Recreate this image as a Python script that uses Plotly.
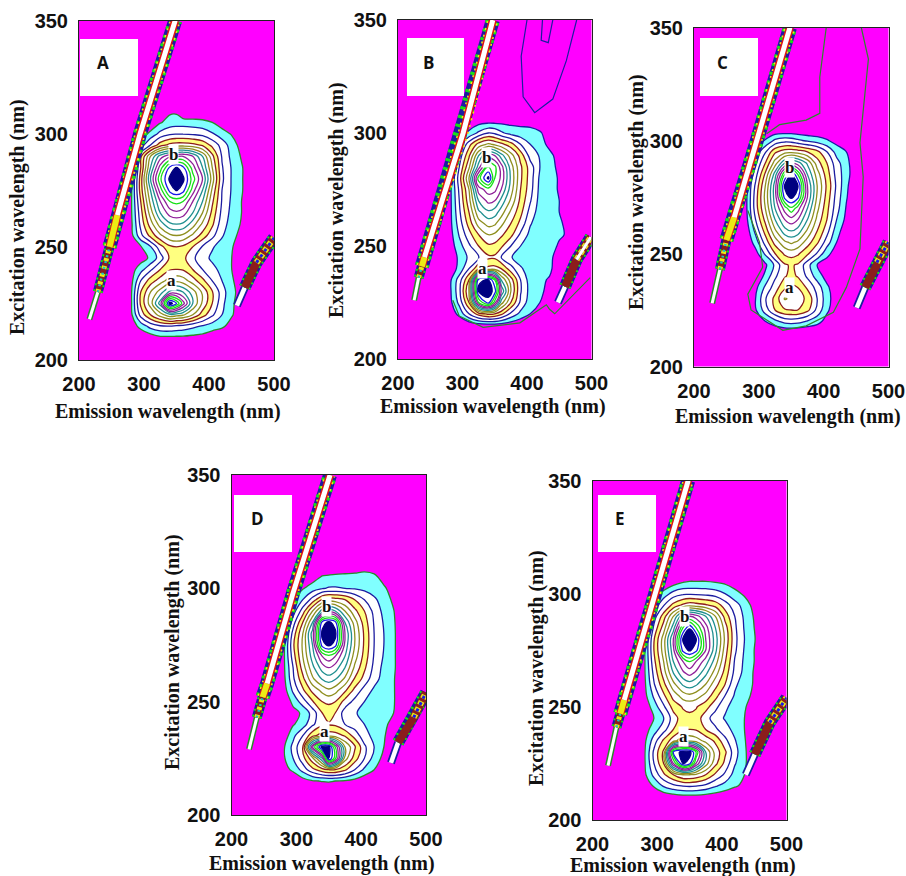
import plotly.graph_objects as go

W, H = 906, 876
EMISSION = [280, 295, 310, 325, 340, 350, 360, 375, 390, 405, 420, 435, 450, 465]
EXCITATION = [205, 210, 215, 220, 225, 230, 235, 240, 245, 250, 255, 260, 265, 270, 275, 280, 285, 290, 295, 300, 305, 310, 315]
X_TICKS = [200, 300, 400, 500]
Y_TICKS = [200, 250, 300, 350]
X_LABEL = "Emission wavelength (nm)"
Y_LABEL = "Excitation wavelength (nm)"

Z0 = [0] * 14
Z_A = [
    Z0,
    [0, 0, .4, .8, .8, .8, .8, .7, .6, .3, .1, 0, 0, 0],
    [.3, 1.4, 2.4, 2.9, 3, 2.8, 2.7, 2.3, 1.9, 1.5, 1.2, .6, 0, 0],
    [.7, 3.4, 5, 6.5, 7.8, 7.5, 7.2, 6, 4.5, 3.2, 2, 1.1, .4, 0],
    [.8, 4.2, 6.5, 9.5, 15.6, 14, 11.5, 8, 5.8, 4, 2.3, 1.1, .7, 0],
    [.8, 4, 6, 7.5, 9.3, 9.5, 9, 7.5, 5.8, 4.1, 2.5, 1.2, .7, 0],
    [.6, 3, 4.5, 5.5, 6.5, 6.8, 6.5, 5.5, 4.3, 3, 2, 1.1, .6, 0],
    [.5, 1.6, 2.8, 4, 4.9, 5, 4.9, 4, 3, 2.3, 1.7, 1, .3, 0],
    [.1, .5, 1.2, 2.5, 4.2, 4.6, 4.3, 3.2, 2.4, 1.8, 1.4, 1, .3, 0],
    [.3, .9, 1.9, 3.6, 4.8, 5, 4.8, 4, 2.9, 2.1, 1.6, 1.1, .3, 0],
    [.6, 2.7, 4.3, 5.8, 6.8, 7, 6.8, 5.8, 4.6, 3.3, 2.1, 1.4, .6, 0],
    [.7, 3.3, 5.5, 7.5, 8.8, 9, 8.8, 7.5, 5.8, 4.2, 2.4, 1.6, .9, .1],
    [.8, 3.6, 6.5, 9, 10.5, 10.8, 10.5, 9, 7, 4.7, 2.7, 1.7, 1, .2],
    [.8, 4, 7.3, 10, 12, 12.3, 12, 10, 8, 5.2, 2.9, 1.8, 1, .2],
    [.7, 4.5, 8, 11.5, 14.4, 15.1, 14.4, 11.5, 9, 5.8, 3, 1.9, 1.1, .3],
    [.6, 4.5, 9, 12.8, 15.3, 16.5, 15.3, 12.5, 10, 6.5, 3.2, 1.9, 1.1, .3],
    [.5, 4, 8, 11.5, 14.3, 15.1, 14.3, 11.5, 9, 6, 3.1, 1.9, 1.1, .3],
    [.4, 3.8, 7, 9.5, 10.8, 10.8, 11, 10, 8, 5.3, 2.9, 1.7, .9, .2],
    [.3, 1.5, 3, 4.5, 5.3, 5.5, 5.5, 5.3, 4.8, 3.7, 2.6, 1.5, .6, 0],
    [0, .3, 1.3, 2.3, 2.8, 2.9, 2.9, 2.8, 2.6, 2.1, 1.4, .9, 0, 0],
    [0, 0, 0, .9, 1.4, 1.5, 1.5, 1.4, 1.3, 1, .5, 0, 0, 0],
    [0, 0, 0, 0, .8, .8, 0, 0, 0, 0, 0, 0, 0, 0],
    Z0,
]
Z_B = [
    Z0, Z0,
    [0, 0, .2, .5, .6, .6, .5, .3, .1, 0, 0, 0, 0, 0],
    [.3, 1.3, 3, 4.5, 5.2, 5, 4.3, 2.8, 1.7, 1, .5, 0, 0, 0],
    [.6, 2.3, 5, 12, 14.5, 11.5, 7.5, 5, 2.8, 1.4, 1, .4, 0, 0],
    [.7, 2.7, 6, 15.2, 15.6, 14.6, 10, 6, 3.1, 1.6, 1.2, .7, .1, 0],
    [.7, 2.5, 5, 14.8, 15.1, 13, 8, 5.5, 3, 1.5, 1.2, .9, .2, 0],
    [.3, 1.3, 3, 4.8, 5.3, 5.4, 5, 3.4, 2.2, 1.3, 1.2, 1.2, .4, 0],
    [.3, 1.2, 2.2, 2.9, 3.8, 3.8, 3, 2.1, 1.3, 1.2, 1.2, 1.2, .6, 0],
    [.4, 1.6, 2.8, 4, 4.8, 4.7, 4.2, 3, 2, 1.4, 1.3, 1.3, .9, .7],
    [.5, 2.1, 3.6, 5, 6, 5.8, 5.2, 4.3, 2.8, 1.7, 1.4, 1.4, 1.1, .9],
    [.6, 2.5, 4.4, 6.5, 7.4, 7.2, 6.3, 5, 3.7, 2.1, 1.4, 1.4, 1.1, .8],
    [.6, 2.8, 5, 7.8, 8.8, 8.5, 7.5, 5.8, 4.3, 2.6, 1.5, 1.4, 1, .6],
    [.6, 3, 5.6, 9, 10.3, 10, 8.7, 6.8, 4.7, 3.1, 1.6, 1.4, 1, .3],
    [.6, 3.2, 6, 10.5, 11.5, 11.3, 10, 7.5, 5, 3.4, 1.7, 1.4, .9, .2],
    [.6, 3.5, 7, 12.5, 15.3, 12, 10.8, 7.8, 5.2, 3.5, 1.8, 1.4, .9, .1],
    [.3, 3, 5.8, 9.5, 13, 12.3, 10.5, 7.5, 5.2, 3.5, 2, 1.3, .8, 0],
    [.2, 2.4, 4.8, 8, 10.5, 10, 8.5, 6.5, 4.6, 2.6, 1.9, 1.2, .7, 0],
    [0, 1.5, 3.6, 5.4, 6.2, 5.8, 5.3, 4.4, 3, 2, 1.3, .8, 0, 0],
    [0, .3, 1.2, 2.2, 3, 2.8, 2.2, 1.6, 1.4, 1.3, 1.1, .6, 0, 0],
    [0, 0, .3, .6, .7, .7, .7, .7, .7, .7, .5, 0, 0, 0],
    Z0, Z0,
]
Z_C = [
    Z0, Z0, Z0,
    [0, .2, 1, 1.7, 2.4, 2.5, 2.4, 1.9, 1.4, .6, .1, 0, 0, 0],
    [0, .9, 2.5, 4, 4.9, 5, 5, 4.3, 2.7, 1.2, .3, 0, 0, 0],
    [0, 1, 2.9, 4.3, 6.1, 5.8, 5.4, 4.8, 3, 1.4, .4, 0, 0, 0],
    [0, .7, 2.2, 3.5, 4.8, 5.2, 5, 3.8, 2.6, 1.2, .3, 0, 0, 0],
    [0, .3, 1.2, 2.8, 3.9, 4.3, 3.9, 2.8, 1.5, .6, 0, 0, 0, 0],
    [0, .1, .8, 2.2, 3.9, 4.1, 3.9, 2.4, 1, .5, .1, 0, 0, 0],
    [0, .6, 2.2, 4, 5.2, 5.5, 5.2, 4.2, 2.9, 1.3, .5, 0, 0, 0],
    [0, 1.5, 3.4, 5.4, 6.8, 7.2, 6.8, 5.5, 4.2, 2.5, 1, .2, 0, 0],
    [.3, 2.3, 4.4, 6.8, 8.6, 9, 8.6, 6.8, 5, 3.4, 1.4, .4, 0, 0],
    [.6, 3, 5.3, 8, 10, 10.6, 10, 8, 5.7, 4, 2, .7, 0, 0],
    [.7, 3.5, 6, 9, 11.5, 12.8, 11.5, 9, 6.3, 4.3, 2.4, .9, 0, 0],
    [.7, 3.5, 6.3, 9.5, 14.4, 15.3, 14.4, 10, 6.8, 4.6, 2.6, 1.1, 0, 0],
    [.7, 3.2, 6, 9.5, 15.2, 16.3, 15.2, 10, 7, 4.8, 2.8, 1.2, .2, 0],
    [.4, 2.6, 5.2, 8.5, 13, 15.3, 13, 9, 6.5, 4.5, 2.6, 1.4, .3, 0],
    [.2, 2, 4, 6.5, 9, 10, 9.5, 7.8, 5.5, 4, 2.4, 1.3, .3, 0],
    [0, 1.3, 2.9, 4.8, 5.6, 5.7, 5.5, 5, 4.3, 3, 1.6, 1, 0, 0],
    [0, .3, 1.1, 2.2, 2.6, 2.5, 2.2, 1.8, 1.5, 1.1, .6, 0, 0, 0],
    Z0, Z0, Z0,
]
Z_D = [
    Z0, Z0,
    [0, .1, .5, .9, 1.05, 1.1, 1, .9, .6, .2, 0, 0, 0, 0],
    [.6, 1.2, 2.4, 3.7, 4.6, 5, 5, 4.2, 3, 1.8, 1, .3, 0, 0],
    [.8, 2, 3.6, 5.7, 9, 15.1, 12.5, 6.5, 4.5, 3, 1.6, .7, 0, 0],
    [.8, 2.3, 4, 11, 15.6, 15.5, 12, 7, 5.2, 3.2, 2, 1, .2, 0],
    [.3, 1.7, 3, 4.7, 5.5, 5.6, 5.5, 4.9, 3.6, 2.4, 1.7, 1.1, .4, 0],
    [0, .9, 1.5, 2.8, 3.8, 3.9, 3.8, 3, 2.5, 2, 1.4, 1.2, .7, 0],
    [0, .6, 1.2, 2.4, 4, 4.4, 4, 2.5, 2.1, 1.7, 1.4, 1.3, 1, 0],
    [0, 1.3, 2.5, 3.9, 5, 5.2, 5, 3.6, 2.7, 2, 1.5, 1.4, 1.1, .1],
    [.4, 2.2, 3.8, 5.3, 6.3, 6.8, 6.4, 5.2, 3.7, 2.6, 1.8, 1.5, 1.1, .1],
    [.6, 2.8, 4.7, 6.8, 8.1, 8.5, 8.1, 6.8, 4.9, 3.6, 2.4, 1.6, 1.1, .1],
    [.7, 3, 5.5, 7.7, 9.5, 10, 9.5, 8, 5.8, 4.2, 2.7, 1.7, 1.2, .1],
    [.7, 3.5, 6, 8.5, 11, 11.7, 11, 9, 6.5, 4.6, 2.9, 1.9, 1.2, .1],
    [.6, 3.8, 6.2, 9, 14.5, 15.3, 14.5, 9.7, 7, 4.8, 3, 2, 1.2, .1],
    [.3, 3.4, 6, 9.5, 15.4, 16.5, 15.4, 10, 7, 4.8, 3, 2, 1.2, .1],
    [0, 2.5, 5, 8, 14.4, 15.3, 14.4, 9, 6.5, 4.5, 2.9, 1.9, 1.15, .1],
    [0, 1.5, 3.5, 6, 8.5, 9.5, 9, 7, 5.3, 4, 2.7, 1.7, 1.05, 0],
    [0, .9, 2, 3.4, 5.1, 5.5, 5.4, 5, 4, 3, 2.2, 1.5, .8, 0],
    [0, 0, .9, 1.5, 1.9, 2.1, 2.1, 2, 1.9, 1.7, 1.5, 1.2, .4, 0],
    [0, 0, 0, .5, 1.1, 1.2, 1.3, 1.4, 1.5, 1.5, 1.3, .5, 0, 0],
    [0, 0, 0, 0, 0, 0, 0, 0, 0, .4, .2, 0, 0, 0],
    Z0,
]
Z_E = [
    Z0,
    [0, 0, .1, .3, .5, .5, .5, .4, .3, .1, 0, 0, 0, 0],
    [.2, 1.1, 2.1, 2.7, 3, 3.1, 3, 2.7, 2.1, 1.6, 1.1, .8, 0, 0],
    [.7, 2.3, 3.8, 5, 6, 6, 5.8, 5, 3.8, 2.8, 1.6, 1, .1, 0],
    [.8, 3, 5, 11, 15.1, 14.5, 11, 7.5, 5.3, 3.7, 2.1, 1.2, .1, 0],
    [.8, 3.2, 5.2, 14, 15.6, 15.5, 13, 8, 5.6, 4.2, 2.4, 1.2, .1, 0],
    [.7, 2.5, 4.2, 5.6, 6.8, 6.8, 6.5, 5.7, 4.8, 3.3, 2.1, 1.1, .1, 0],
    [.5, 1.5, 2.6, 4, 4.9, 5, 4.9, 4, 3.2, 2.4, 1.7, 1, .1, 0],
    [0, 1, 1.9, 3.5, 4.6, 4.8, 4.6, 3.4, 2.5, 1.9, 1.4, 1, .3, 0],
    [.2, 1.5, 2.8, 4.4, 5.1, 5.2, 5.1, 4.4, 3.3, 2.2, 1.6, 1.1, .5, 0],
    [.6, 2.2, 3.8, 5.4, 6.5, 6.8, 6.5, 5.7, 4.4, 3, 1.9, 1.3, .8, 0],
    [.7, 2.9, 4.7, 6.7, 8.2, 8.6, 8.2, 7, 5.4, 4, 2.2, 1.5, .9, .1],
    [.8, 3.3, 5.5, 8, 9.8, 10.4, 9.8, 8.3, 6.5, 4.6, 2.7, 1.7, .9, .1],
    [.8, 3.7, 6, 9, 11, 12, 11, 9.5, 7.5, 5.1, 2.9, 1.8, 1, .1],
    [.8, 4, 6.5, 9.7, 14.4, 15.2, 14.4, 11, 8.3, 5.5, 3.2, 1.9, 1, .1],
    [.7, 3.9, 6.5, 10, 15.2, 16.5, 15.2, 11, 8.5, 5.8, 3.3, 2, 1.1, .1],
    [.3, 3.2, 5.5, 8.5, 13, 14.8, 13, 10.5, 8, 5.5, 3.2, 1.9, 1, .1],
    [.1, 2.5, 4.5, 7, 10, 11, 10.5, 9, 7, 4.6, 3, 1.8, .9, 0],
    [0, 1.3, 2.9, 4.3, 5.2, 5.6, 5.4, 5.1, 4.6, 3.5, 2.4, 1.6, .6, 0],
    [0, .3, 1.4, 2.4, 2.8, 2.8, 2.8, 2.7, 2.5, 2, 1.4, .8, .1, 0],
    [0, 0, 0, .5, 1, 1.1, 1.1, 1.1, 1, .8, .4, 0, 0, 0],
    Z0, Z0,
]

# Scatter bands (emission, excitation)
BAND1_EM = {"A": [216, 229, 247, 259, 294, 348], "B": [225, 232, 237, 241, 301, 347], "C": [228, 240, 250, 262, 296, 348], "D": [227, 239, 248, 255, 295, 352], "E": [224, 237, 243, 249, 294, 348]}
BAND1_EX = {"A": [218, 230, 250, 264, 300, 350], "B": [226, 236, 241, 245, 300, 350], "C": [228, 243, 256, 266, 299, 350], "D": [229, 243, 252, 258, 298, 350], "E": [224, 241, 247, 253, 297, 350]}
BAND2_EM = {"A": [443, 455, 473, 500], "B": [448, 459, 477, 499], "C": [451, 464, 482, 500], "D": [446, 457, 481, 500], "E": [437, 451, 474, 500]}
BAND2_EX = {"A": [224, 232, 243, 254], "B": [225, 232, 244, 254], "C": [226, 235, 246, 255], "D": [223, 232, 243, 254], "E": [220, 229, 243, 254]}

# Faint extra contour lines seen in panels B and C
B_OUTER_EM = [285, 295, 332, 389, 430, 435, 443, 498]
B_OUTER_EX = [226, 219, 214, 216, 224, 222, 220, 236]
C_OUTER_EM = [404, 394, 394, 373, 332, 312, None, 283, 301, 306, 283, 288, 337, 373, 415, 435, 456, 461, 456, 469, 458]
C_OUTER_EX = [350, 328, 312, 309, 307, 303, None, 269, 255, 244, 232, 225, 216, 218, 224, 235, 252, 284, 299, 336, 350]
B_TOP1_EM = [400, 391, 394, 412, 440, 461, 477]
B_TOP1_EX = [350, 334, 316, 309, 315, 332, 350]
B_TOP2_EM = [424, 422, 433, 440]
B_TOP2_EX = [350, 341, 340, 350]

PEAK_B_EM = {"A": 345, "B": 337, "C": 348, "D": 347, "E": 343}
PEAK_B_EX = {"A": 291, "B": 289, "C": 288, "D": 292, "E": 290}
PEAK_A_EM = {"A": 343, "B": 331, "C": 348, "D": 344, "E": 340}
PEAK_A_EX = {"A": 235, "B": 240, "C": 235, "D": 237, "E": 237}

PANELS = {"A": Z_A, "B": Z_B, "C": Z_C, "D": Z_D, "E": Z_E}

# ---------- layout and style (pixels in the 906x876 page) ----------
BOX = {"A": (79, 274, 20.5, 360), "B": (398, 591.5, 20, 359), "C": (694, 888.5, 27.5, 366.5), "D": (231.5, 426, 475, 815), "E": (592.5, 786.5, 480.5, 820)}
TAG = {"A": (80, 138, 39, 96, 103, 62), "B": (407, 464, 38, 96, 428, 62), "C": (700, 758, 38, 96, 722, 62), "D": (234, 292, 495, 552, 257, 518), "E": (598, 656, 495, 552, 620, 518)}
XT = {"A": (168, 411), "B": (493, 406), "C": (788, 416), "D": (322, 863), "E": (683, 865)}
YT = {"A": (17, 217), "B": (336, 200), "C": (636, 192), "D": (172, 652), "E": (536, 668)}

MAGENTA, CYAN, YELLOW, WHITE = "#ff00ff", "#80ffff", "#ffff80", "#ffffff"
GREEN, NAVY, RED, OLIVE, TEAL, PURPLE, LIME, BLUE = "#2a8a2a", "#1c1ca0", "#8c1c1c", "#8f8f20", "#1f8f8f", "#8f2099", "#18e018", "#1818e8"
DARK = "#000080"
FILLS = [MAGENTA, CYAN, WHITE, WHITE, YELLOW] + [WHITE] * 10 + [DARK]


def stepped(colors):
    n = len(colors)
    out = []
    for i, c in enumerate(colors):
        out += [[i / n, c], [(i + 1) / n, c]]
    return out


def line_colors(first):
    return [first, NAVY, NAVY, RED, RED, OLIVE, OLIVE, TEAL, TEAL, PURPLE, PURPLE, LIME, LIME, BLUE, DARK]


BAND1_LAYERS = [
    (0, 2, 6, GREEN, None), (0, 2, 3, WHITE, None),
    (1, 3, 10, NAVY, None), (1, 3, 10, LIME, "2px,4px"), (1, 3, 6, RED, None),
    (1, 3, 5, "#ecec14", "3px,5px"), (1, 3, 2.5, "#18c8c8", "2px,4px"),
    (2, 6, 14, NAVY, None), (2, 6, 14, LIME, "3px,6px"), (2, 6, 11, "#ecec14", "2px,5px"),
    (2, 6, 8, "#e01414", None), (2, 4, 6, "#ecec14", None), (3, 6, 5, WHITE, None),
]
BAND2_LAYERS = [
    (0, 2, 8, NAVY, None), (0, 2, 4.5, WHITE, None),
    (1, 4, 12, NAVY, None), (1, 4, 12, LIME, "2px,4px"), (1, 4, 8, RED, None),
    (2, 4, 6, "#ecec14", "4px,3px"), (2, 4, 3, BLUE, "3px,4px"),
]

fig = go.Figure()
layout = {}
annotations, shapes = [], []


def px(x):
    return x / W


def py(y):
    return 1 - y / H


for i, (name, z) in enumerate(PANELS.items()):
    sfx = "" if i == 0 else str(i + 1)
    xa, ya = "x" + sfx, "y" + sfx
    x0, x1, y0, y1 = BOX[name]
    common = dict(showgrid=False, zeroline=False, showline=True, linecolor="#222", linewidth=1, mirror=True,
                  ticks="", ticklabelstandoff=6, tickfont=dict(family="Liberation Sans", size=20, color="#111", weight="bold"))
    layout["xaxis" + sfx] = dict(domain=[px(x0), px(x1)], range=[200, 500], tickvals=X_TICKS, anchor=ya, **common)
    layout["yaxis" + sfx] = dict(domain=[py(y1), py(y0)], range=[200, 350], tickvals=Y_TICKS, anchor=xa, **common)

    fig.add_trace(go.Contour(x=EMISSION, y=EXCITATION, z=z, xaxis=xa, yaxis=ya, showscale=False, zmin=0, zmax=16,
                             autocontour=False, contours=dict(start=1, end=15, size=1, coloring="fill"),
                             colorscale=stepped(FILLS), line=dict(width=0, smoothing=1), hoverinfo="skip"))
    first = NAVY if name in "BC" else GREEN
    fig.add_trace(go.Contour(x=EMISSION, y=EXCITATION, z=z, xaxis=xa, yaxis=ya, showscale=False, zmin=0.5, zmax=15.5,
                             autocontour=False, contours=dict(start=1, end=15, size=1, coloring="lines"),
                             colorscale=stepped(line_colors(first)), line=dict(width=1.3, smoothing=1), hoverinfo="skip"))

    def add_line(xs, ys, color, width, dash=None):
        fig.add_trace(go.Scatter(x=xs, y=ys, xaxis=xa, yaxis=ya, mode="lines", showlegend=False, hoverinfo="skip",
                                 line=dict(color=color, width=width, dash=dash)))

    if name == "B":
        add_line(B_OUTER_EM, B_OUTER_EX, GREEN, 1.2)
        add_line(B_TOP1_EM, B_TOP1_EX, NAVY, 1.2)
        add_line(B_TOP2_EM, B_TOP2_EX, NAVY, 1.2)
    if name == "C":
        add_line(C_OUTER_EM, C_OUTER_EX, GREEN, 1.2)

    for a, b, w, c, d in BAND1_LAYERS:
        add_line(BAND1_EM[name][a:b], BAND1_EX[name][a:b], c, w, d)
    for a, b, w, c, d in BAND2_LAYERS:
        add_line(BAND2_EM[name][a:b], BAND2_EX[name][a:b], c, w, d)
    if name == "B":
        add_line(BAND2_EM[name][2:], BAND2_EX[name][2:], WHITE, 3)

    tx0, tx1, ty0, ty1, lx, ly = TAG[name]
    shapes.append(dict(type="rect", xref="paper", yref="paper", x0=px(tx0), x1=px(tx1), y0=py(ty1), y1=py(ty0),
                       fillcolor=WHITE, line=dict(width=0), layer="above"))
    annotations.append(dict(text=name, xref="paper", yref="paper", x=px(lx), y=py(ly), xanchor="center", yanchor="middle", showarrow=False,
                            font=dict(family="Open Sans", size=17, color="#111", weight="bold")))
    for label, ex_, ey_ in (("b", PEAK_B_EM, PEAK_B_EX), ("a", PEAK_A_EM, PEAK_A_EX)):
        annotations.append(dict(text=label, x=ex_[name], y=ey_[name], xref=xa, yref=ya, xanchor="center", yanchor="middle", showarrow=False, bgcolor=WHITE,
                                borderpad=0, font=dict(family="Liberation Serif", size=17, color="#111", weight="bold")))
    annotations.append(dict(text=X_LABEL, xref="paper", yref="paper", x=px(XT[name][0]), y=py(XT[name][1]), xanchor="center", yanchor="middle", showarrow=False,
                            font=dict(family="Liberation Serif", size=20, color="#111", weight="bold")))
    annotations.append(dict(text=Y_LABEL, xref="paper", yref="paper", x=px(YT[name][0]), y=py(YT[name][1]), xanchor="center", yanchor="middle", showarrow=False, textangle=-90,
                            font=dict(family="Liberation Serif", size=20, color="#111", weight="bold")))

fig.update_layout(width=W, height=H, margin=dict(l=0, r=0, t=0, b=0, autoexpand=False), paper_bgcolor="white", plot_bgcolor=MAGENTA,
                  showlegend=False, shapes=shapes, annotations=annotations, **layout)
fig.write_html("out.html", config={"displayModeBar": False}, post_script="document.body.style.margin='0';")
